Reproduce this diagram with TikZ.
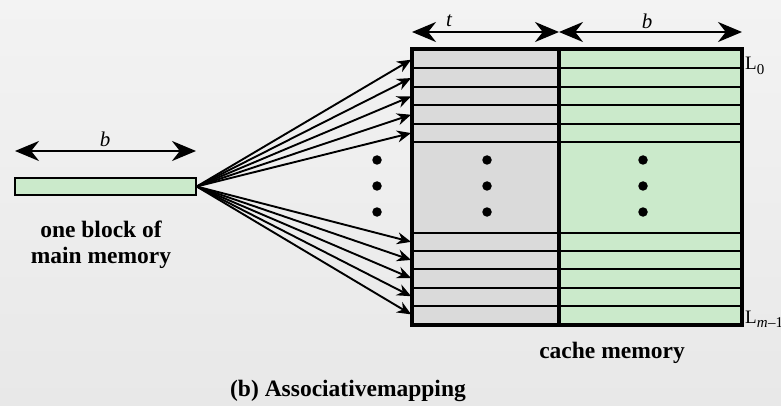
\documentclass[tikz,border=0pt]{standalone}
\usepackage{fontspec}
\setmainfont{Liberation Serif}
\usetikzlibrary{arrows.meta}
\definecolor{bgtop}{RGB}{243,243,243}
\definecolor{bgbot}{RGB}{232,232,232}
\definecolor{taggray}{RGB}{218,218,218}
\definecolor{datagreen}{RGB}{203,234,203}
\newcommand{\linesub}[1]{\raisebox{-4.5pt}{\fontsize{15}{15}\selectfont #1}}
\tikzset{
  tagrow/.style={draw=black, line width=2pt, fill=taggray, rectangle, inner sep=0pt, anchor=north west},
  datarow/.style={draw=black, line width=2pt, fill=datagreen, rectangle, inner sep=0pt, anchor=north west},
  conn/.style={line width=1.9pt, -{Stealth[length=14pt,width=12pt]}, shorten >=1pt},
  dimarrow/.style={line width=2.5pt, {Stealth[length=24pt,width=20pt]}-{Stealth[length=24pt,width=20pt]}},
  frame/.style={draw=black, line width=3.4pt},
  dotmark/.style={circle, fill=black, inner sep=0pt, minimum size=9.5pt},
  boldlabel/.style={font=\fontsize{23.5}{26}\selectfont\bfseries, align=center, inner sep=0pt},
  dimlabel/.style={font=\fontsize{21}{22}\selectfont\itshape, inner sep=0pt},
  linelabel/.style={font=\fontsize{19}{22}\selectfont, inner sep=0pt, anchor=base west}
}
\begin{document}
\begin{tikzpicture}[x=1pt, y=-1pt]
  % background
  \shade[top color=bgtop, bottom color=bgbot] (0,0) rectangle (781,406);
  \useasboundingbox (0,0) rectangle (781,406);

  % one block of main memory
  \node[draw=black, line width=1.4pt, fill=datagreen, minimum width=181pt, minimum height=17pt, inner sep=0pt] (blk) at (105.5,186.5) {};
  \coordinate (bl) at (15,151);
  \coordinate (br) at (196,151);
  \draw[dimarrow] (bl) -- (br);
  \node[dimlabel] (blab) at (105,139) {b};
  \node[boldlabel, anchor=base] (blktxt) at (101,263) {one block of\\main memory};

  % cache lines: five at the top, five at the bottom, one gap section between
  \foreach \i in {0,...,4} {
    \node[tagrow, minimum width=145pt, minimum height=18.4pt] (t\i) at (412,{49+18.4*\i}) {};
    \node[datarow, minimum width=183pt, minimum height=18.4pt] (d\i) at (557,{49+18.4*\i}) {};
  }
  \node[tagrow, minimum width=145pt, minimum height=91pt] (tmid) at (412,141) {};
  \node[datarow, minimum width=183pt, minimum height=91pt] (dmid) at (557,141) {};
  \foreach \i in {5,...,9} {
    \node[tagrow, minimum width=145pt, minimum height=18.2pt] (t\i) at (412,{232+18.2*(\i-5)}) {};
    \node[datarow, minimum width=183pt, minimum height=18.2pt] (d\i) at (557,{232+18.2*(\i-5)}) {};
  }
  % outer frame and column divider
  \draw[frame] (t0.north west) rectangle (d9.south east);
  \draw[frame] (t0.north east) -- (t9.south east);

  % vertical ellipses
  \foreach \y/\k in {160/a,186/b,212/c} {
    \node[dotmark] (dl\k) at (377,\y) {};
    \node[dotmark] (dt\k) at (487,\y) {};
    \node[dotmark] (dd\k) at (643,\y) {};
  }

  % mapping arrows from the block to every line
  \foreach \i in {0,...,9} {
    \draw[conn] (blk.east) -- (t\i.west);
  }

  % tag and block widths
  \draw[dimarrow] (t0.north west |- 0,32) coordinate (tl) -- (t0.north east |- 0,32) coordinate (tr);
  \draw[dimarrow] (tr) -- (d0.north east |- 0,32) coordinate (dr);
  \node[dimlabel] (tlab) at (449,21) {t};
  \node[dimlabel] (dlab) at (647,21) {b};

  % line labels
  \node[linelabel] (l0) at (745,70) {L\linesub{0}};
  \node[linelabel] (lm) at (745,323) {L\linesub{\textit{m}\kern0.5pt\textendash1}};

  % captions
  \node[boldlabel, anchor=base] (cachetxt) at (612,358) {cache memory};
  \node[boldlabel, anchor=base] (caption) at (348,396) {(b) Associativemapping};
\end{tikzpicture}
\end{document}
